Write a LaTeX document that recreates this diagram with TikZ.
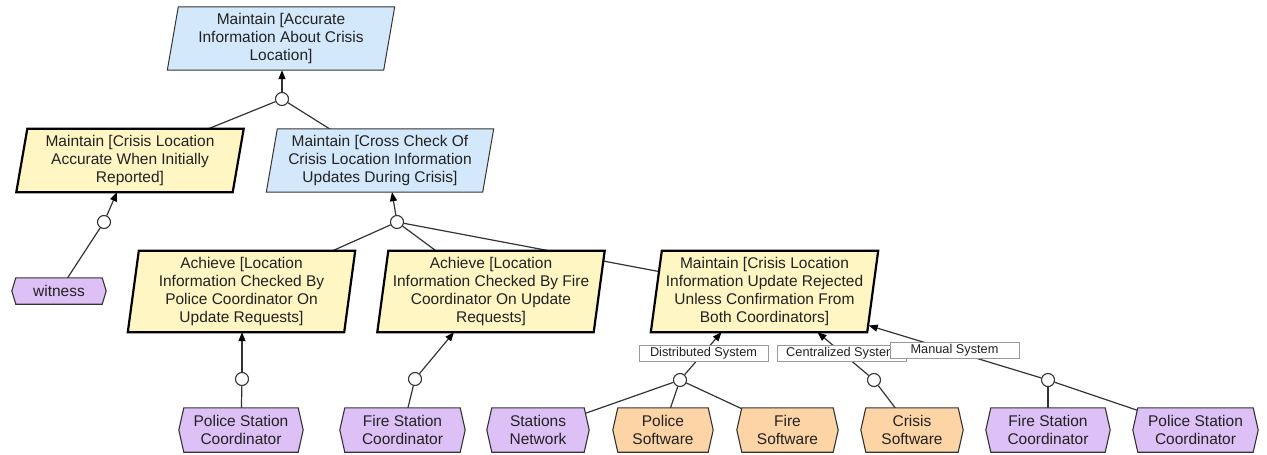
\documentclass[tikz,border=0pt]{standalone}
\usepackage{fontspec}
\setmainfont{Liberation Sans}
\usetikzlibrary{arrows.meta,calc}

\pgfdeclarelayer{edges}
\pgfdeclarelayer{shapes}
\pgfsetlayers{edges,shapes,main}

\definecolor{goalblue}{HTML}{D4E8FC}
\definecolor{goalyellow}{HTML}{FFF6C4}
\definecolor{agentpurple}{HTML}{DDC0F6}
\definecolor{softorange}{HTML}{FDD4A6}
\definecolor{ink}{HTML}{222222}
\definecolor{wirecol}{HTML}{333333}

\tikzset{
  txt/.style={inner sep=0pt, align=center, text=ink, font=\fontsize{15.5}{18}\selectfont},
  goal/.style={txt, minimum width=216pt, minimum height=63pt},
  tallgoal/.style={goal, minimum height=81pt},
  agent/.style={txt, minimum height=44pt},
  refine/.style={circle, draw=wirecol, fill=white, line width=1.1pt, minimum size=13pt, inner sep=0pt},
  wire/.style={draw=wirecol, line width=1.2pt},
  arr/.style={wire, -{Triangle[length=9pt,width=7pt,color=black]}},
  tag/.style={draw=black!40, fill=white, line width=0.8pt, inner sep=0pt,
    minimum width=129pt, minimum height=16pt, text=ink, font=\fontsize{12.75}{14}\selectfont},
}

% parallelogram behind a goal node: name, fill, border colour, border width
\newcommand\parashape[4]{%
  \begin{pgfonlayer}{shapes}
  \draw[draw=#3, fill=#2, line width=#4, line join=miter]
    ([xshift=5.5pt]#1.north west) -- ([xshift=5.5pt]#1.north east) --
    ([xshift=-5.5pt]#1.south east) -- ([xshift=-5.5pt]#1.south west) -- cycle;
  \end{pgfonlayer}}

% hexagon behind an agent node: name, fill, indent
\newcommand\hexshape[3]{%
  \begin{pgfonlayer}{shapes}
  \draw[draw=wirecol, fill=#2, line width=1.1pt]
    (#1.west) -- ([xshift=#3]#1.north west) -- ([xshift=-#3]#1.north east) --
    (#1.east) -- ([xshift=-#3]#1.south east) -- ([xshift=#3]#1.south west) -- cycle;
  \end{pgfonlayer}}

\begin{document}
\begin{tikzpicture}[x=1pt,y=-1pt]
\useasboundingbox (0,0) rectangle (1267,455);

% goals
\node[goal] (G1) at (281,38.5) {Maintain [Accurate\\Information About Crisis\\Location]};
\node[goal] (G2) at (130,160.5) {Maintain [Crisis Location\\Accurate When Initially\\Reported]};
\node[goal] (G3) at (380,160.5) {Maintain [Cross Check Of\\Crisis Location Information\\Updates During Crisis]};
\node[tallgoal] (G4) at (241.5,291.5) {Achieve [Location\\Information Checked By\\Police Coordinator On\\Update Requests]};
\node[tallgoal] (G5) at (491,291.5) {Achieve [Location\\Information Checked By Fire\\Coordinator On Update\\Requests]};
\node[tallgoal] (G6) at (764.5,291.5) {Maintain [Crisis Location\\Information Update Rejected\\Unless Confirmation From\\Both Coordinators]};

\parashape{G1}{goalblue}{wirecol}{1pt}
\parashape{G2}{goalyellow}{black}{2.2pt}
\parashape{G3}{goalblue}{wirecol}{1pt}
\parashape{G4}{goalyellow}{black}{2.2pt}
\parashape{G5}{goalyellow}{black}{2.2pt}
\parashape{G6}{goalyellow}{black}{2.2pt}

% agents
\node[agent, minimum width=94pt, minimum height=26pt] (W) at (59,291) {witness};
\node[agent, minimum width=124pt] (PSC1) at (241,430) {Police Station\\Coordinator};
\node[agent, minimum width=125pt] (FSC1) at (402.5,430) {Fire Station\\Coordinator};
\node[agent, minimum width=102pt] (SN) at (538,430) {Stations\\Network};
\node[agent, minimum width=100pt] (PS) at (663,430) {Police\\Software};
\node[agent, minimum width=101pt] (FS) at (787.5,430) {Fire\\Software};
\node[agent, minimum width=102pt] (CS) at (912,430) {Crisis\\Software};
\node[agent, minimum width=124pt] (FSC2) at (1048,430) {Fire Station\\Coordinator};
\node[agent, minimum width=125pt] (PSC2) at (1195.5,430) {Police Station\\Coordinator};

\hexshape{W}{agentpurple}{4pt}
\hexshape{PSC1}{agentpurple}{5pt}
\hexshape{FSC1}{agentpurple}{5pt}
\hexshape{SN}{agentpurple}{5pt}
\hexshape{PS}{softorange}{5pt}
\hexshape{FS}{softorange}{5pt}
\hexshape{CS}{softorange}{5pt}
\hexshape{FSC2}{agentpurple}{5pt}
\hexshape{PSC2}{agentpurple}{5pt}

% refinement circles
\node[refine] (c1) at (282,99) {};
\node[refine] (c2) at (104,222) {};
\node[refine] (c3) at (397,222) {};
\node[refine] (c4) at (242,379) {};
\node[refine] (c5) at (415,379) {};
\node[refine] (c6) at (680,380) {};
\node[refine] (c7) at (874,380) {};
\node[refine] (c8) at (1048,380) {};

% refinement links (under the shapes)
\begin{pgfonlayer}{edges}
\draw[wire] (c1) -- (G2.center);
\draw[wire] (c1) -- (G3.center);
\draw[wire] (W.center) -- (c2);
\draw[wire] (c3) -- (G4.center);
\draw[wire] (c3) -- (G5.center);
\draw[wire] (c3) -- (G6.center);
\draw[wire] (c4) -- (PSC1.center);
\draw[wire] (c5) -- (FSC1.center);
\draw[wire] (c6) -- (SN.center);
\draw[wire] (c6) -- (PS.center);
\draw[wire] (c6) -- (FS.center);
\draw[wire] (c7) -- (CS.center);
\draw[wire] (c8) -- (FSC2.center);
\draw[wire] (c8) -- (PSC2.center);
\end{pgfonlayer}

% arrows to the refined goals
\draw[arr] (c1) -- (c1 |- G1.south);
\draw[arr] (c2) -- ([xshift=-13pt]G2.south);
\draw[arr] (c3) -- ([xshift=12pt]G3.south);
\draw[arr] (c4) -- (c4 |- G4.south);
\draw[arr] (c5) -- ([xshift=-37pt]G5.south);
\draw[arr] (c6) -- ([xshift=-43pt]G6.south);
\draw[arr] (c7) -- ([xshift=53pt]G6.south);
\draw[arr] (c8) -- ([xshift=-4pt,yshift=-34pt]G6.east);

% alternative labels
\node[tag] (tD) at (703.5,353) {Distributed System};
\node[tag] (tC) at (841.5,353) {Centralized System};
\node[tag] (tM) at (954.5,350) {Manual System};
\end{tikzpicture}
\end{document}
